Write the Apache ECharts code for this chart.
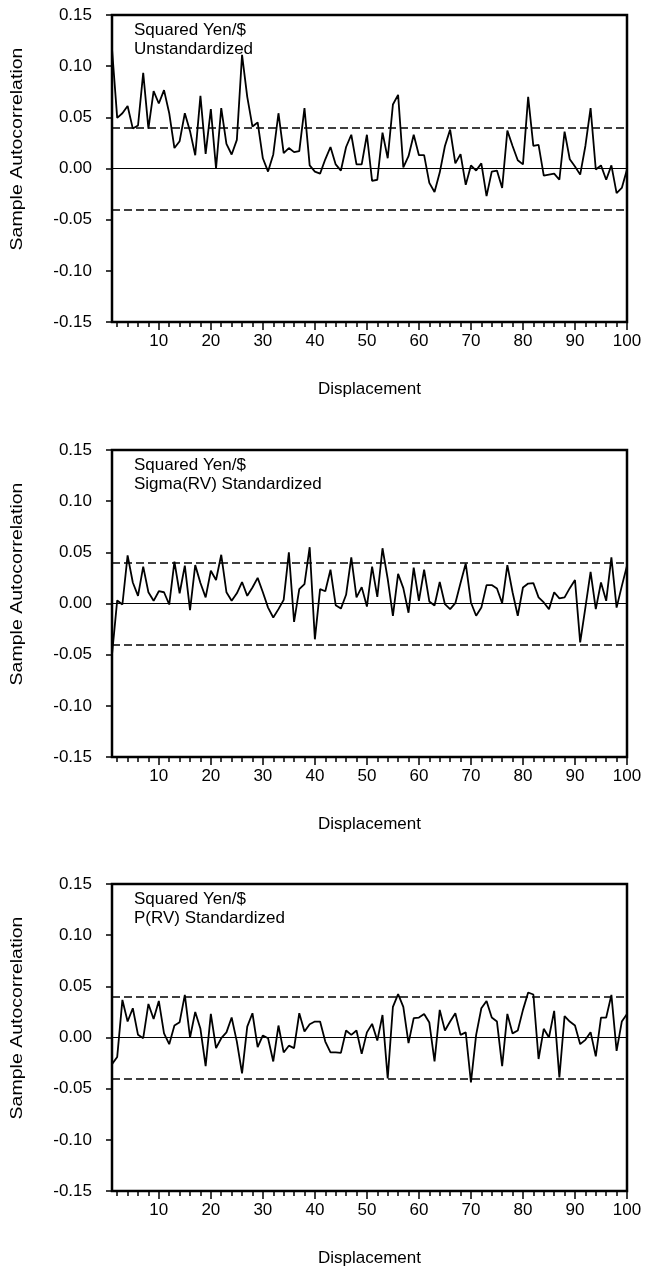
<!DOCTYPE html>
<html><head><meta charset="utf-8">
<script src="https://cdn.jsdelivr.net/npm/echarts@6/dist/echarts.min.js"></script>
<style>html,body{margin:0;padding:0;background:#fff}#c{width:647px;height:1272px}</style>
</head><body><div id="c"></div>
<script>
// ---- data ----
const lags = Array.from({length: 100}, (_, i) => i + 1);
const titleLine1 = ['Squared Yen/$', 'Squared Yen/$', 'Squared Yen/$'];
const titleLine2 = ['Unstandardized', 'Sigma(RV) Standardized', 'P(RV) Standardized'];
const xAxisName = 'Displacement';
const yAxisName = 'Sample Autocorrelation';
const xTickLabels = [10, 20, 30, 40, 50, 60, 70, 80, 90, 100];
const xMinorTicks = [2,4,6,8,12,14,16,18,22,24,26,28,32,34,36,38,42,44,46,48,52,54,56,58,62,64,66,68,72,74,76,78,82,84,86,88,92,94,96,98];
const yMin = -0.15, yMax = 0.15, yStep = 0.05;
const bandLevel = 0.041;

const unstd = [
 0.117, 0.0495, 0.054, 0.061, 0.039, 0.042, 0.0935, 0.039, 0.0756, 0.0635,
 0.0766, 0.054, 0.020, 0.0267, 0.054, 0.0365, 0.013, 0.071, 0.0143, 0.058,
 0.000, 0.059, 0.024, 0.0137, 0.028, 0.111, 0.070, 0.041, 0.045, 0.010,
 -0.003, 0.0137, 0.054, 0.015, 0.020, 0.016, 0.017, 0.059, 0.003, -0.003,
 -0.005, 0.009, 0.021, 0.004, -0.002, 0.021, 0.033, 0.004, 0.004, 0.033,
 -0.012, -0.011, 0.035, 0.010, 0.0625, 0.072, 0.001, 0.012, 0.033, 0.013,
 0.013, -0.014, -0.023, -0.004, 0.022, 0.038, 0.005, 0.014, -0.016, 0.003,
 -0.002, 0.005, -0.027, -0.003, -0.002, -0.019, 0.037, 0.022, 0.008, 0.004,
 0.070, 0.022, 0.023, -0.007, -0.006, -0.005, -0.011, 0.036, 0.009, 0.002,
 -0.006, 0.022, 0.059, -0.001, 0.003, -0.011, 0.003, -0.024, -0.019, -0.001
];
const sigmaStd = [
 -0.050, 0.003, -0.001, 0.047, 0.0205, 0.0075, 0.036, 0.011, 0.0026, 0.012,
 0.011, -0.001, 0.041, 0.010, 0.037, -0.0065, 0.0375, 0.020, 0.006, 0.032,
 0.023, 0.0476, 0.011, 0.0026, 0.010, 0.021, 0.0075, 0.0156, 0.025, 0.011,
 -0.004, -0.0137, -0.0055, 0.0036, 0.050, -0.018, 0.014, 0.019, 0.055, -0.035,
 0.014, 0.012, 0.033, -0.0016, -0.005, 0.0085, 0.045, 0.006, 0.016, -0.003,
 0.036, 0.0065, 0.054, 0.024, -0.012, 0.029, 0.015, -0.009, 0.035, 0.0026,
 0.033, 0.002, -0.002, 0.021, -0.0007, -0.0055, 0.0003, 0.020, 0.039, 0.001,
 -0.012, -0.004, 0.018, 0.018, 0.0147, 0.0003, 0.0375, 0.011, -0.012, 0.0156,
 0.0195, 0.020, 0.006, 0.001, -0.0055, 0.011, 0.005, 0.006, 0.015, 0.023,
 -0.038, -0.004, 0.031, -0.0055, 0.0205, 0.0026, 0.045, -0.004, 0.017, 0.037
];
const pStd = [
 -0.026, -0.019, 0.0367, 0.0156, 0.0286, 0.0026, -0.0007, 0.0328, 0.018, 0.0357,
 0.004, -0.0065, 0.0117, 0.015, 0.0416, 0.000, 0.025, 0.0085, -0.028, 0.023,
 -0.0104, -0.0007, 0.005, 0.0195, -0.004, -0.035, 0.0107, 0.0237, -0.0094, 0.002,
 -0.0007, -0.0234, 0.0117, -0.0146, -0.008, -0.0104, 0.0237, 0.0059, 0.013, 0.0156,
 0.0156, -0.004, -0.0146, -0.0146, -0.015, 0.0068, 0.0026, 0.0068, -0.016, 0.005,
 0.0133, -0.003, 0.022, -0.040, 0.030, 0.0423, 0.030, -0.0055, 0.0189, 0.0195,
 0.023, 0.0146, -0.0234, 0.027, 0.0068, 0.0156, 0.0237, 0.0026, 0.005, -0.044,
 0.0026, 0.0286, 0.0357, 0.0195, 0.0156, -0.028, 0.023, 0.004, 0.0068, 0.027,
 0.044, 0.042, -0.021, 0.0085, 0.000, 0.026, -0.039, 0.021, 0.0156, 0.0117,
 -0.0065, -0.0023, 0.0052, -0.0185, 0.0195, 0.0195, 0.0416, -0.013, 0.0156, 0.023
];
const panels = [unstd, sigmaStd, pStd];

// ---- layout ----
const FONT = '"Liberation Sans", Arial, sans-serif';
const gridTops = [15, 450, 884];
const gridLeft = 112, gridWidth = 515, gridHeight = 307;

const grids = [], xAxes = [], yAxes = [], series = [], graphics = [];
panels.forEach((vals, k) => {
  grids.push({left: gridLeft, top: gridTops[k], width: gridWidth, height: gridHeight,
    show: true, borderColor: '#000', borderWidth: 2.5, backgroundColor: 'transparent'});
  // major x axis with labels
  xAxes.push({type: 'value', gridIndex: k, position: 'bottom', min: 1, max: 100,
    axisLine: {show: false, onZero: false},
    axisTick: {show: true, customValues: xTickLabels, length: 8, lineStyle: {color: '#000', width: 1.5}},
    axisLabel: {show: true, customValues: xTickLabels, margin: 11, color: '#000', fontSize: 17, fontFamily: FONT},
    splitLine: {show: false},
    name: xAxisName, nameLocation: 'middle', nameGap: 59,
    nameTextStyle: {color: '#000', fontSize: 17, fontFamily: FONT}});
  // minor x ticks
  xAxes.push({type: 'value', gridIndex: k, position: 'bottom', offset: 0, min: 1, max: 100,
    axisLine: {show: false, onZero: false},
    axisTick: {show: true, customValues: xMinorTicks, length: 5, lineStyle: {color: '#000', width: 1.5}},
    axisLabel: {show: false}, splitLine: {show: false}});
  yAxes.push({type: 'value', gridIndex: k, min: yMin, max: yMax, interval: yStep,
    axisLine: {show: false, onZero: false},
    axisTick: {show: true, length: 6, lineStyle: {color: '#000', width: 1.5}},
    axisLabel: {color: '#000', fontSize: 17, fontFamily: FONT, margin: 20,
      formatter: v => v.toFixed(2)},
    splitLine: {show: false}});
  series.push({type: 'line', xAxisIndex: 2 * k, yAxisIndex: k,
    data: lags.map((l, i) => [l, vals[i]]),
    showSymbol: false, symbol: 'none',
    lineStyle: {color: '#000', width: 1.8},
    markLine: {silent: true, symbol: 'none', label: {show: false}, animation: false,
      data: [
        {yAxis: 0, lineStyle: {color: '#000', type: 'solid', width: 1}},
        {yAxis: bandLevel, lineStyle: {color: '#000', type: [8, 4], width: 1.5}},
        {yAxis: -bandLevel, lineStyle: {color: '#000', type: [8, 4], width: 1.5}}
      ]}});
  graphics.push({type: 'text', left: 134, top: gridTops[k] + 6,
    style: {text: titleLine1[k] + '\n' + titleLine2[k], font: '17px ' + FONT, fill: '#000', lineHeight: 19}});
  graphics.push({type: 'text', x: 18, y: gridTops[k] + 134, rotation: Math.PI / 2, scaleX: 1.22,
    style: {text: yAxisName, font: '16px ' + FONT, fill: '#000', align: 'center', verticalAlign: 'middle'}});
});

const chart = echarts.init(document.getElementById('c'), null, {renderer: 'canvas'});
chart.setOption({
  animation: false,
  backgroundColor: '#fff',
  grid: grids, xAxis: xAxes, yAxis: yAxes, series: series, graphic: graphics
});
</script></body></html>
